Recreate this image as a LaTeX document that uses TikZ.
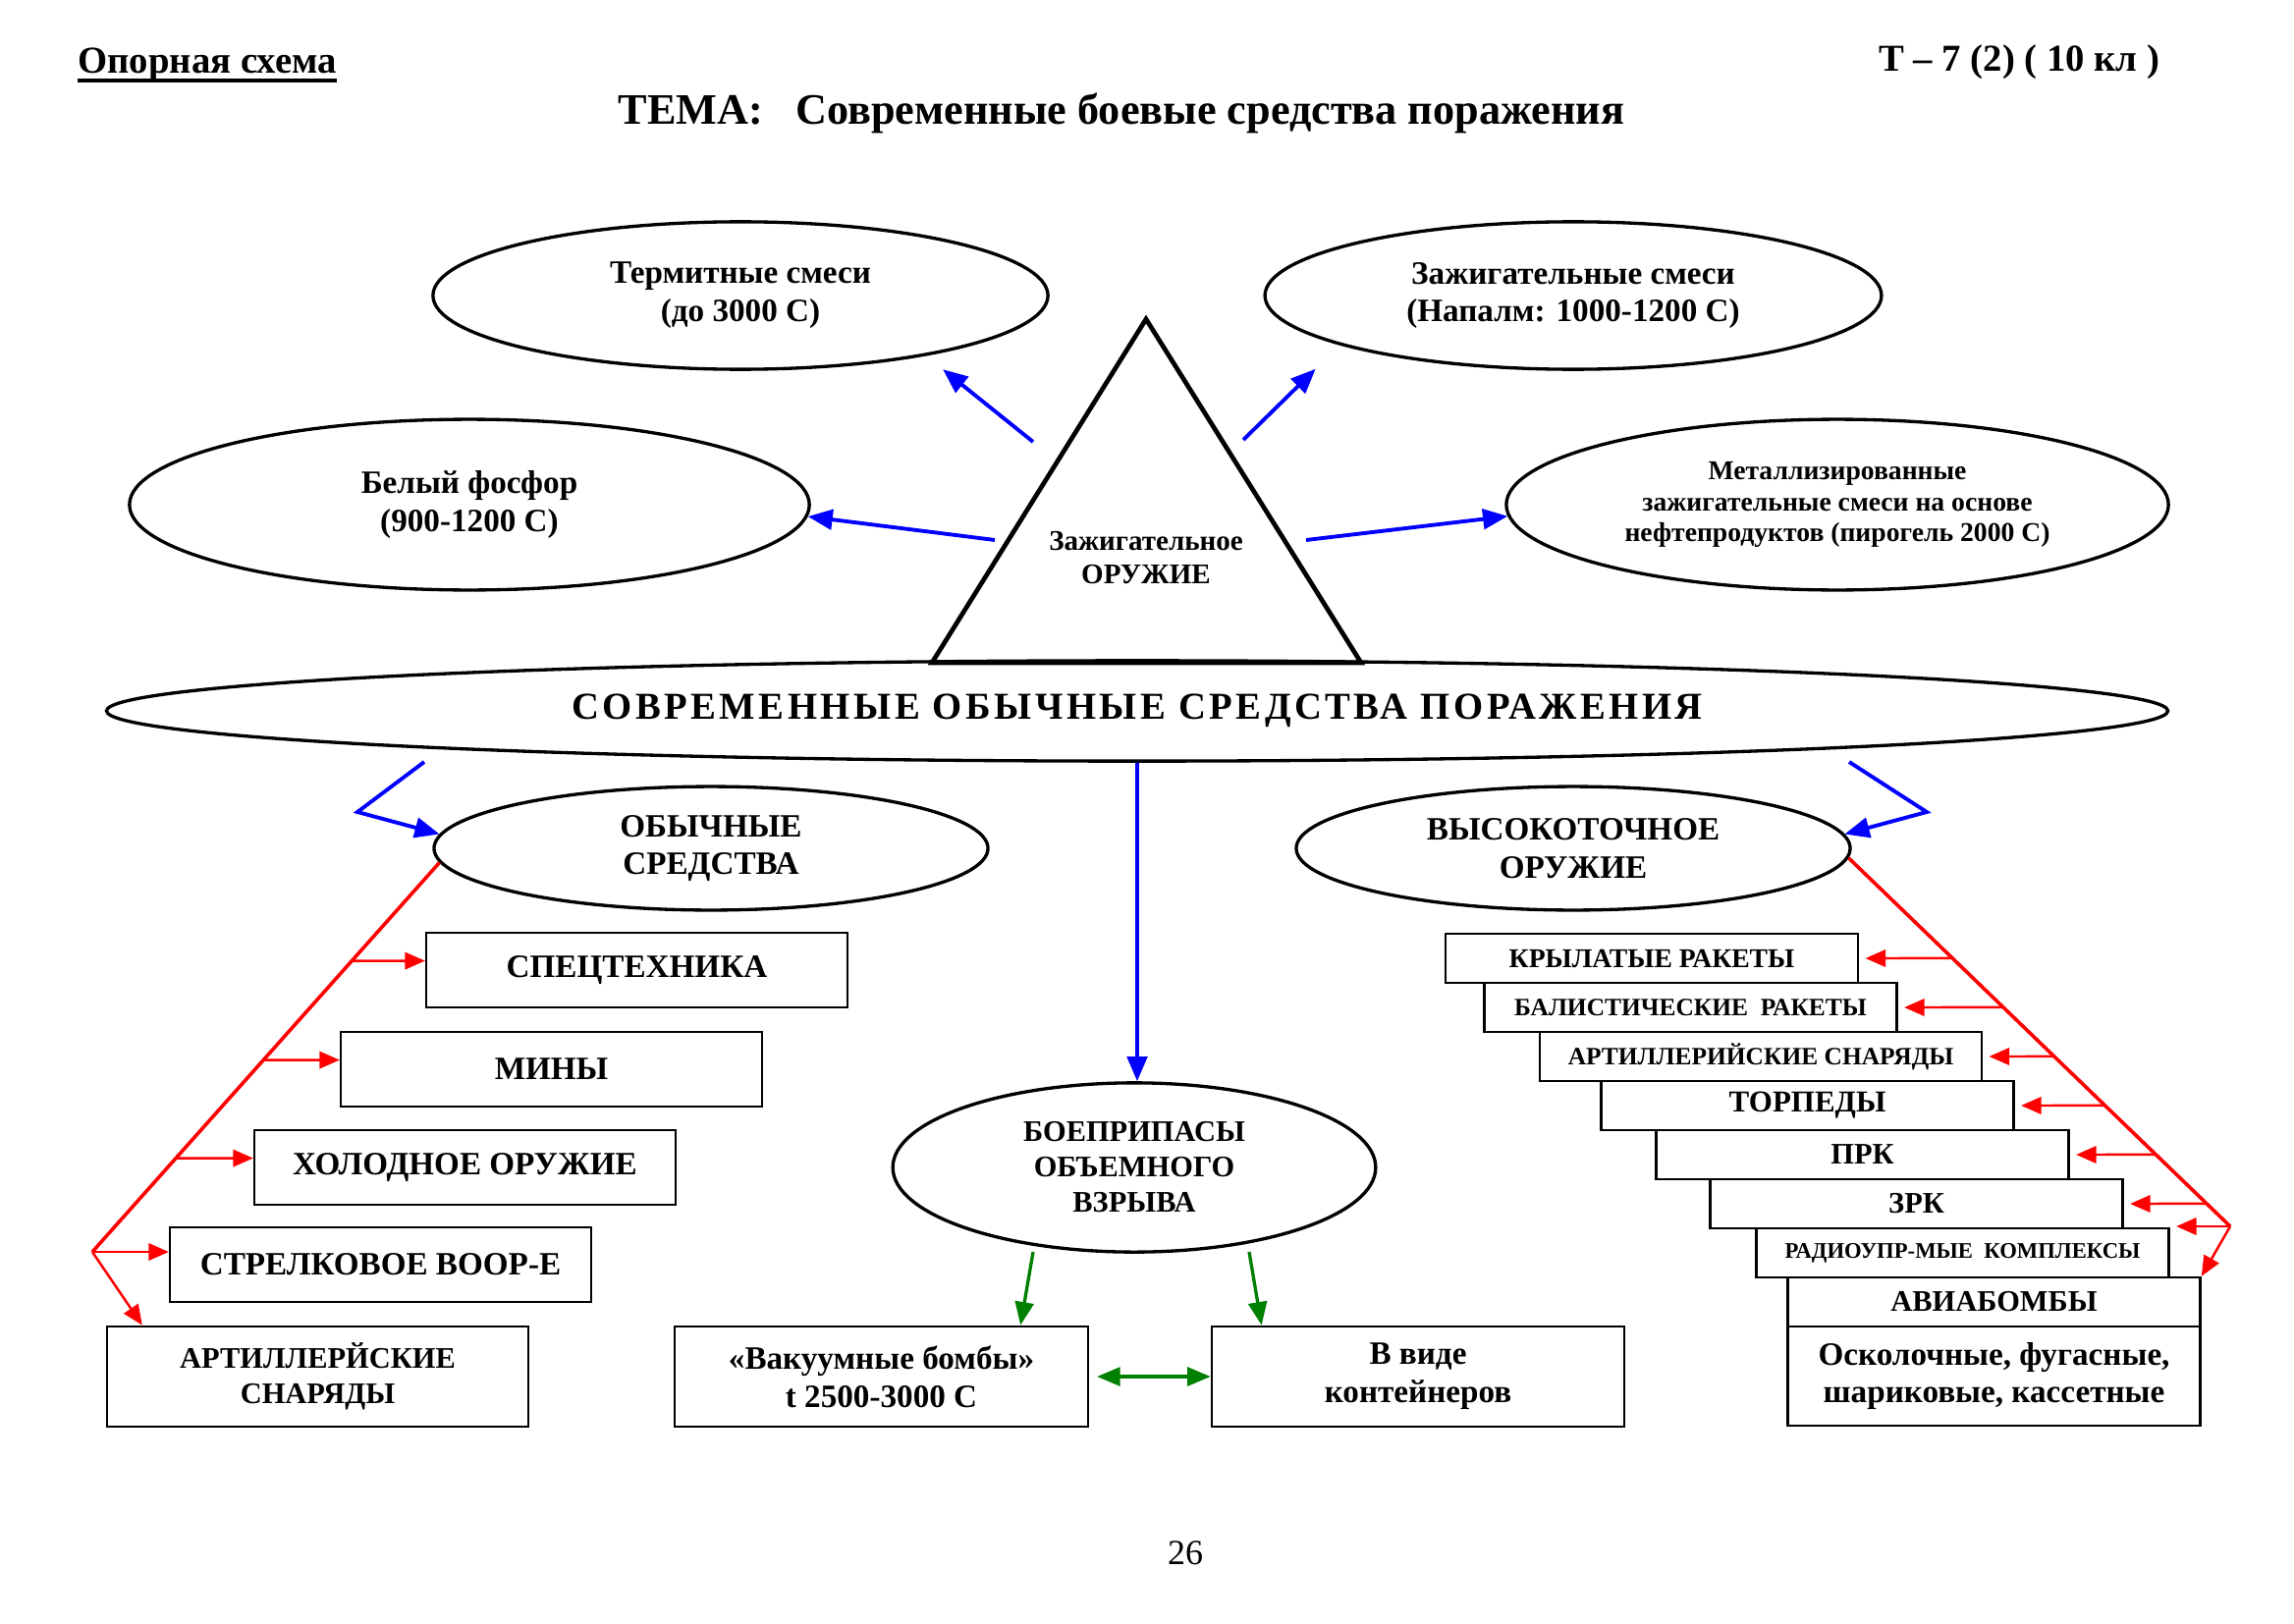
\documentclass[tikz,border=0pt]{standalone}
\usepackage{fontspec}
\setmainfont{Liberation Serif}
\usepackage{tikz}
\usetikzlibrary{shapes.geometric,arrows.meta}

\definecolor{arrblue}{RGB}{0,0,255}
\definecolor{arrred}{RGB}{255,0,0}
\definecolor{arrgreen}{RGB}{0,128,0}
\newcommand{\fsz}[2]{\fontsize{#1}{#2}\selectfont\bfseries}

\begin{document}
\begin{tikzpicture}[x=0.1271mm,y=-0.1271mm,
  oval/.style={ellipse,draw,line width=1.2pt,inner sep=0pt,align=center},
  box/.style={rectangle,draw,line width=0.9pt,inner sep=0pt,align=center},
  bluearr/.style={arrblue,line width=1.4pt,-{Triangle[length=3.2mm,width=2.6mm]}},
  redline/.style={arrred,line width=1.3pt},
  redarr/.style={arrred,line width=0.9pt,-{Triangle[length=2.6mm,width=2.2mm]}},
  greenarr/.style={arrgreen,line width=1.2pt,-{Triangle[length=3mm,width=2.4mm]}}]
\useasboundingbox (0,0) rectangle (2336,1653);

% header
\node[anchor=west,inner sep=0pt,font=\fsz{14}{16}] (opor) at (79,66) {Опорная схема};
\draw[line width=1.5pt] ([yshift=-2.6pt]opor.base west) -- ([yshift=-2.6pt]opor.base east);
\node[anchor=east,font=\fsz{14}{16}] (num) at (2209,63) {Т – 7 (2) ( 10 кл )};
\node[font=\fsz{16}{18}] (tema) at (1142,115) {ТЕМА:\ \ \ Современные боевые средства поражения};

% incendiary weapons
\node[oval,minimum width=79.6mm,minimum height=19.1mm,font=\fsz{12}{14}] (term) at (754,301) {Термитные смеси\\(до 3000 С)};
\node[oval,minimum width=79.8mm,minimum height=19.1mm,font=\fsz{12}{14}] (zaz) at (1602,301) {Зажигательные смеси\\(Напалм: 1000-1200 С)};
\node[oval,minimum width=88mm,minimum height=22.1mm,font=\fsz{12}{14}] (fos) at (478,514) {Белый фосфор\\(900-1200 С)};
\node[oval,minimum width=85.7mm,minimum height=22.1mm,font=\fsz{10}{11.5}] (met) at (1871,514) {Металлизированные\\зажигательные смеси на основе\\нефтепродуктов (пирогель 2000 С)};

\coordinate (apex) at (1167,325);
\coordinate (tl) at (949,675);
\coordinate (tr) at (1386,675);
\draw[line width=1.7pt,line join=miter] (tl) -- (apex) -- (tr) -- cycle;
\node[align=center,font=\fsz{10.5}{12}] (zo) at (1167,568) {Зажигательное\\ОРУЖИЕ};

\coordinate (a1) at (1052,450);
\coordinate (a2) at (1266,448);
\coordinate (a3) at (1013,550);
\coordinate (a4) at (1330,550);
\draw[bluearr,shorten >=2.8mm] (a1) -- (term.-18);
\draw[bluearr,shorten >=4.4mm] (a2) -- (zaz.192);
\draw[bluearr] (a3) -- (fos.-2);
\draw[bluearr] (a4) -- (met.182);

% main ellipse
\node[oval,minimum width=266.8mm,minimum height=13mm,font=\fsz{14}{16}\addfontfeatures{LetterSpace=9}] (big) at (1158,724) {СОВРЕМЕННЫЕ ОБЫЧНЫЕ СРЕДСТВА ПОРАЖЕНИЯ};

\node[oval,minimum width=71.7mm,minimum height=16mm,font=\fsz{12}{14}] (ob) at (724,864) {ОБЫЧНЫЕ\\СРЕДСТВА};
\node[oval,minimum width=71.7mm,minimum height=16mm,font=\fsz{12}{14}] (hv) at (1602,864) {ВЫСОКОТОЧНОЕ\\ОРУЖИЕ};
\node[oval,minimum width=62.5mm,minimum height=21.9mm,font=\fsz{11}{13}] (boe) at (1155,1189) {БОЕПРИПАСЫ\\ОБЪЕМНОГО\\ВЗРЫВА};

\coordinate (lb1) at (432,776);
\coordinate (lb2) at (364,827);
\coordinate (rb1) at (1883,776);
\coordinate (rb2) at (1962,827);
\draw[bluearr,line join=miter] (lb1) -- (lb2) -- (ob.177);
\draw[bluearr,line join=miter] (rb1) -- (rb2) -- (hv.3);
\draw[bluearr] (big.south) -- (big.south |- boe.north);

% conventional means
\begin{scope}[every node/.style={box,minimum width=54.5mm,minimum height=9.6mm,font=\fsz{12}{14}}]
\node (spec) at (648.5,988) {СПЕЦТЕХНИКА};
\node (mines) at (561.5,1089) {МИНЫ};
\node (hol) at (473.5,1189) {ХОЛОДНОЕ ОРУЖИЕ};
\node (strel) at (387.5,1288) {СТРЕЛКОВОЕ ВООР-Е};
\node[minimum height=13mm,font=\fsz{11}{13}] (artl) at (323.5,1402) {АРТИЛЛЕРЙСКИЕ\\СНАРЯДЫ};
\end{scope}

\coordinate (lstart) at (ob.183);
\coordinate (lbend) at (94,1275);
\draw[redline,line join=miter] (lstart) -- (lbend);
\draw[redarr] (lbend) -- ([xshift=4.7mm]artl.north west);
\foreach \b in {spec,mines,hol}
  \draw[redarr] (intersection of lstart--lbend and {[yshift=1.2mm]\b.west}--{[yshift=1.2mm]\b.east}) -- ([yshift=1.2mm]\b.west);
\draw[redarr] (lbend) -- (lbend -| strel.west);

% volume explosion
\node[box,minimum width=53.5mm,minimum height=13mm,font=\fsz{12}{14}] (vak) at (897.5,1402) {«Вакуумные бомбы»\\t 2500-3000 С};
\node[box,minimum width=53.4mm,minimum height=13mm,font=\fsz{12}{14}] (cont) at (1444,1402) {В виде\\контейнеров};
\coordinate (g1) at (1052,1275);
\coordinate (g2) at (1272,1275);
\draw[greenarr] (g1) -- ([xshift=-8.9mm]vak.north east);
\draw[greenarr] (g2) -- ([xshift=6.6mm]cont.north west);
\draw[greenarr,{Triangle[length=3mm,width=2.4mm]}-{Triangle[length=3mm,width=2.4mm]},shorten <=1mm] (vak.east) -- (cont.west);

% precision weapons
\begin{scope}[every node/.style={box,minimum width=53.4mm,minimum height=6.35mm,font=\fsz{10}{12}}]
\node (kr) at (1682,976) {КРЫЛАТЫЕ РАКЕТЫ};
\node[font=\fsz{9.2}{11}] (bal) at (1721.5,1026) {БАЛИСТИЧЕСКИЕ~ РАКЕТЫ};
\node[minimum width=57.2mm,font=\fsz{9.2}{11}] (artr) at (1793,1076) {АРТИЛЛЕРИЙСКИЕ СНАРЯДЫ};
\node[font=\fsz{11.2}{13}] (torp) at (1840.5,1126) {ТОРПЕДЫ};
\node[font=\fsz{11}{13}] (prk) at (1896.5,1176) {ПРК};
\node[font=\fsz{11}{13}] (zrk) at (1951.5,1226) {ЗРК};
\node[font=\fsz{8.2}{10}] (radio) at (1998.5,1276) {РАДИОУПР-МЫЕ~ КОМПЛЕКСЫ};
\node[font=\fsz{11}{13}] (avia) at (2030.5,1326) {АВИАБОМБЫ};
\node[minimum height=12.8mm,font=\fsz{12}{14}] (osk) at (2030.5,1401.5) {Осколочные, фугасные,\\шариковые, кассетные};
\end{scope}

\coordinate (rstart) at (hv.-2);
\coordinate (rbend) at (2271,1249);
\draw[redline,line join=miter] (rstart) -- (rbend);
\draw[redarr] (rbend) -- (avia.north east);
\foreach \b in {kr,bal,artr,torp,prk,zrk}
  \draw[redarr,shorten >=0.8mm] (intersection of rstart--rbend and \b.west--\b.east) -- (\b.east);
\draw[redarr,shorten >=0.8mm] (rbend) -- (rbend -| radio.east);

\node[font=\fontsize{13}{15}\selectfont] (page) at (1207,1582) {26};
\end{tikzpicture}
\end{document}
